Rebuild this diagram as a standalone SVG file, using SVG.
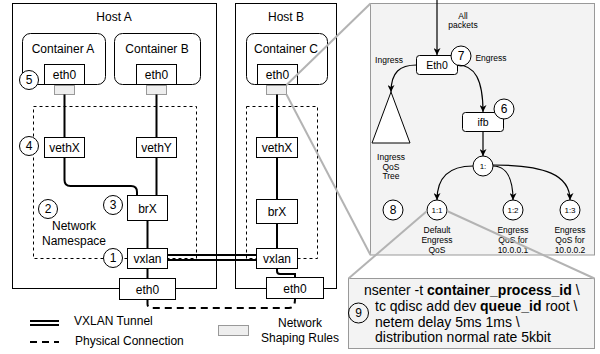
<svg xmlns="http://www.w3.org/2000/svg" width="600" height="354" viewBox="0 0 600 354">
<defs>
<marker id="arr" viewBox="0 0 10 10" refX="10" refY="5" markerWidth="7" markerHeight="7" markerUnits="userSpaceOnUse" orient="auto">
<path d="M0,0 L10,5 L0,10 L3,5 z" fill="#000"/>
</marker>
</defs>
<style>
text{font-family:"Liberation Sans",Arial,Helvetica,sans-serif;fill:#000}
.c{text-anchor:middle}
.f12{font-size:12px}
.f9{font-size:8.5px}
.f8{font-size:8px}
.box{fill:#fff;stroke:#000;stroke-width:1}
.ns{fill:none;stroke:#000;stroke-width:1;stroke-dasharray:3,3}
.rule{fill:#eeeeee;stroke:#999;stroke-width:1}
.num{fill:#fff;stroke:#000;stroke-width:1}
.wire{fill:none;stroke:#000;stroke-width:2}
.phys{fill:none;stroke:#000;stroke-width:2;stroke-dasharray:7,5}
.zoom{fill:none;stroke:#b3b3b3;stroke-width:2}
.arrow{fill:none;stroke:#000;stroke-width:1.2;marker-end:url(#arr)}
.panel{fill:#f3f3f3;stroke:#999;stroke-width:1}
.cmd{font-size:14px}
</style>

<!-- Hosts -->
<g id="host-a">
<rect class="box" x="12.5" y="3.5" width="204" height="285"/>
<text class="c f12" x="114" y="21">Host A</text>
</g>
<g id="host-b">
<rect class="box" x="235.5" y="3.5" width="101" height="285"/>
<text class="c f12" x="286" y="21">Host B</text>
</g>

<!-- Namespaces -->
<g id="namespace-a">
<rect class="ns" x="33.5" y="106.5" width="163" height="152"/>
<text class="c f12" x="74" y="230">Network</text>
<text class="c f12" x="74" y="245">Namespace</text>
</g>
<g id="namespace-b">
<rect class="ns" x="246.5" y="106.5" width="71" height="152"/>
</g>

<!-- Containers -->
<g id="container-a">
<rect class="box" x="22.5" y="33.5" width="83" height="51" rx="8"/>
<text class="c f12" x="63" y="53">Container A</text>
</g>
<g id="container-b">
<rect class="box" x="114.5" y="33.5" width="86" height="51" rx="8"/>
<text class="c f12" x="157" y="53">Container B</text>
</g>
<g id="container-c">
<rect class="box" x="246.5" y="33.5" width="81" height="51" rx="8"/>
<text class="c f12" x="286" y="53">Container C</text>
</g>

<!-- Interfaces -->
<g id="eth0-a"><rect class="box" x="44.5" y="64.5" width="40" height="20"/><text class="c f12" x="64.5" y="79">eth0</text></g>
<g id="eth0-b"><rect class="box" x="136.5" y="64.5" width="40" height="20"/><text class="c f12" x="156.5" y="79">eth0</text></g>
<g id="eth0-c"><rect class="box" x="257.5" y="64.5" width="40" height="20"/><text class="c f12" x="277.5" y="79">eth0</text></g>
<g id="rule-a"><rect class="rule" x="54.5" y="85.5" width="20" height="9"/></g>
<g id="rule-b"><rect class="rule" x="146.5" y="85.5" width="20" height="9"/></g>
<g id="rule-c"><rect class="rule" x="266.5" y="85.5" width="20" height="9"/></g>

<g id="vethx-a"><rect class="box" x="44.5" y="137.5" width="40" height="20"/><text class="c f12" x="64.5" y="152">vethX</text></g>
<g id="vethy-a"><rect class="box" x="136.5" y="137.5" width="40" height="20"/><text class="c f12" x="156.5" y="152">vethY</text></g>
<g id="brx-a"><rect class="box" x="127.5" y="195.5" width="40" height="25"/><text class="c f12" x="147.5" y="212.5">brX</text></g>
<g id="vxlan-a"><rect class="box" x="127.5" y="248.5" width="40" height="20"/><text class="c f12" x="147.5" y="263">vxlan</text></g>
<g id="eth0-host-a"><rect class="box" x="119.5" y="278.5" width="56" height="21"/><text class="c f12" x="147.5" y="293.5">eth0</text></g>

<g id="vethx-b"><rect class="box" x="256.5" y="137.5" width="41" height="20"/><text class="c f12" x="277" y="152">vethX</text></g>
<g id="brx-b"><rect class="box" x="256.5" y="199.5" width="41" height="24"/><text class="c f12" x="277" y="216">brX</text></g>
<g id="vxlan-b"><rect class="box" x="256.5" y="248.5" width="41" height="20"/><text class="c f12" x="277" y="263">vxlan</text></g>
<g id="eth0-host-b"><rect class="box" x="266.5" y="277.5" width="57" height="21"/><text class="c f12" x="295" y="292.5">eth0</text></g>

<!-- Numbered markers -->
<g id="n5"><circle class="num" cx="29" cy="80" r="9.5"/><text class="c f12" x="29" y="84.3">5</text></g>
<g id="n4"><circle class="num" cx="29" cy="146" r="9.5"/><text class="c f12" x="29" y="150.3">4</text></g>
<g id="n3"><circle class="num" cx="113" cy="205" r="9.5"/><text class="c f12" x="113" y="209.3">3</text></g>
<g id="n2"><circle class="num" cx="48" cy="209" r="9.5"/><text class="c f12" x="48" y="213.3">2</text></g>
<g id="n1"><circle class="num" cx="113" cy="258" r="9.5"/><text class="c f12" x="113" y="262.3">1</text></g>

<!-- Legend -->
<g id="legend-tunnel">
<line class="wire" x1="30" y1="321" x2="59" y2="321"/>
<line class="wire" x1="30" y1="325" x2="59" y2="325"/>
<text class="f12" x="74" y="325">VXLAN Tunnel</text>
</g>
<g id="legend-physical">
<line class="phys" x1="30" y1="342" x2="59" y2="342"/>
<text class="f12" x="75" y="345">Physical Connection</text>
</g>
<g id="legend-rules">
<rect class="rule" x="218.5" y="325.5" width="30" height="10"/>
<text class="c f12" x="300" y="327">Network</text>
<text class="c f12" x="300" y="342">Shaping Rules</text>
</g>

<!-- Zoom panel -->
<g id="qos-panel">
<rect class="panel" x="370.5" y="3.5" width="224" height="251.5"/>
<text class="c f9" x="463" y="19">All</text>
<text class="c f9" x="463" y="28">packets</text>
<text class="c f9" x="389" y="63">Ingress</text>
<text class="c f9" x="491" y="61">Engress</text>
</g>
<g id="eth0-qos"><rect class="box" x="416.5" y="55.5" width="41" height="19" rx="3"/><text class="c" style="font-size:10.5px" x="437" y="69">Eth0</text></g>
<g id="n7"><circle class="num" cx="461" cy="56" r="10"/><text class="c f12" x="461" y="60.3">7</text></g>
<g id="ifb"><rect class="box" x="462.5" y="112.5" width="41" height="19" rx="3"/><text class="c" style="font-size:10.5px" x="483" y="126">ifb</text></g>
<g id="n6"><circle class="num" cx="504" cy="109" r="10"/><text class="c f12" x="504" y="113.3">6</text></g>
<g id="ingress-tree">
<polygon class="box" points="391,92 372,143 410,143"/>
<text class="c f9" x="391" y="160">Ingress</text>
<text class="c f9" x="391" y="170">QoS</text>
<text class="c f9" x="391" y="179">Tree</text>
</g>
<g id="q1"><circle class="num" cx="483" cy="166" r="10"/><text class="c f8" x="483" y="169">1:</text></g>
<g id="q11"><circle class="num" cx="437" cy="210" r="10"/><text class="c f8" x="437" y="213">1:1</text>
<text class="c f9" x="437" y="233">Default</text><text class="c f9" x="437" y="243">Engress</text><text class="c f9" x="437" y="253">QoS</text></g>
<g id="q12"><circle class="num" cx="513" cy="210" r="10"/><text class="c f8" x="513" y="213">1:2</text>
<text class="c f9" x="513" y="233">Engress</text><text class="c f9" x="513" y="243">QoS for</text><text class="c f9" x="513" y="253">10.0.0.1</text></g>
<g id="q13"><circle class="num" cx="570" cy="210" r="10"/><text class="c f8" x="570" y="213">1:3</text>
<text class="c f9" x="570" y="233">Engress</text><text class="c f9" x="570" y="243">QoS for</text><text class="c f9" x="570" y="253">10.0.0.2</text></g>
<g id="n8"><circle class="num" cx="393" cy="210" r="10"/><text class="c f12" x="393" y="214.3">8</text></g>

<!-- Command callout -->
<g id="command">
<rect class="panel" x="348.5" y="278.5" width="246" height="70"/>
<text class="cmd" x="364" y="295">nsenter -t <tspan font-weight="bold">container_process_id</tspan> \</text>
<text class="cmd" x="375" y="311">tc qdisc add dev <tspan font-weight="bold">queue_id</tspan> root \</text>
<text class="cmd" x="375" y="327">netem delay 5ms 1ms \</text>
<text class="cmd" x="375" y="342">distribution normal rate 5kbit</text>
</g>
<g id="n9"><circle fill="none" stroke="#000" cx="358.5" cy="313" r="10"/><text class="c f12" x="358.5" y="317.3">9</text></g>

<!-- Connectors -->
<g id="connectors">
<path class="wire" d="M64.5,94.5 V137.5"/>
<path class="wire" d="M156.5,94.5 V137.5"/>
<path class="wire" d="M64.5,157.5 V180 Q64.5,186 70.5,186 H131 Q137,186 137,192 V195.5"/>
<path class="wire" d="M156.5,157.5 V195.5"/>
<path class="wire" d="M147.5,220.5 V248.5"/>
<path class="wire" d="M147.5,268.5 V278.5"/>
<path class="wire" d="M277,94.5 V137.5"/>
<path class="wire" d="M277,157.5 V199.5"/>
<path class="wire" d="M277,223.5 V248.5"/>
<path class="wire" d="M277,268.5 V271 Q277,274 280,274 H295 V277.5"/>
<line class="wire" x1="167.5" y1="255" x2="256.5" y2="255"/>
<line class="wire" x1="167.5" y1="260" x2="256.5" y2="260"/>
<path class="phys" d="M147.5,299.5 V304 Q147.5,308 152,308 H289 Q295,308 295,299"/>
<path class="arrow" d="M437,0 V55"/>
<path class="arrow" d="M416.5,65 C400,65 391,72 391,92"/>
<path class="arrow" d="M457.5,65 C475,65 483,80 483,112"/>
<path class="arrow" d="M483,131.5 V156"/>
<path class="arrow" d="M473,166 C450,166 437,176 437,200"/>
<path class="arrow" d="M493,166 C506,166 513,178 513,200"/>
<path class="arrow" d="M493,165 C545,165 570,175 570,200"/>
<line class="zoom" x1="286.5" y1="85" x2="370.5" y2="3.5"/>
<line class="zoom" x1="286.5" y1="94.5" x2="370.5" y2="255"/>
<line class="zoom" x1="427" y1="211" x2="348.5" y2="278.5"/>
<line class="zoom" x1="447" y1="211" x2="594.5" y2="278.5"/>
</g>
</svg>
